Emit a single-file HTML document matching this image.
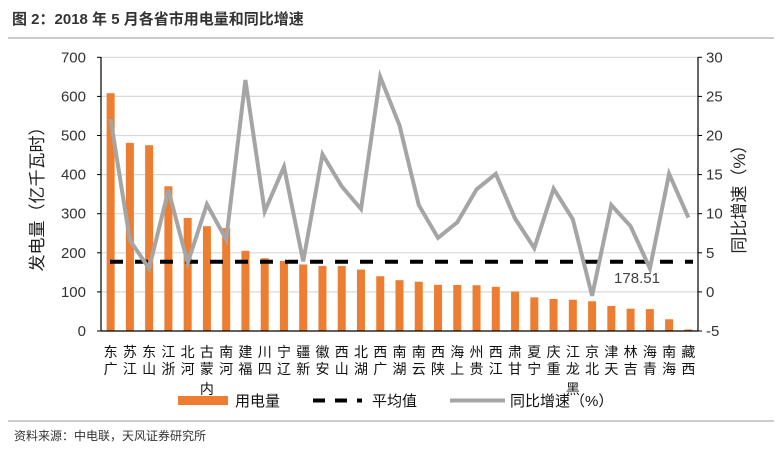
<!DOCTYPE html>
<html><head><meta charset="utf-8"><style>
body{margin:0;background:#fff;}
svg{display:block;font-family:"Liberation Sans","Noto Sans CJK SC",sans-serif;}
</style></head><body>
<svg width="782" height="451" viewBox="0 0 782 451" xmlns="http://www.w3.org/2000/svg">
<text x="12" y="24" font-size="15" font-weight="bold" fill="#333">图 2：2018 年 5 月各省市用电量和同比增速</text>
<line x1="8" y1="38" x2="774" y2="38" stroke="#999" stroke-width="1"/>
<line x1="8" y1="421" x2="774" y2="421" stroke="#999" stroke-width="1"/>
<text x="14" y="440" font-size="12" fill="#333">资料来源：中电联，天风证券研究所</text>
<g stroke="#d9d9d9" stroke-width="1.2">
<line x1="101" y1="57.3" x2="698" y2="57.3"/><line x1="101" y1="96.4" x2="698" y2="96.4"/><line x1="101" y1="135.5" x2="698" y2="135.5"/><line x1="101" y1="174.6" x2="698" y2="174.6"/><line x1="101" y1="213.7" x2="698" y2="213.7"/><line x1="101" y1="252.8" x2="698" y2="252.8"/><line x1="101" y1="291.9" x2="698" y2="291.9"/>
</g>
<g id="bars" fill="#ed7d31"></g>
<g stroke="#000" stroke-width="1.2">
<line x1="101" y1="57" x2="101" y2="331"/><line x1="698" y1="57" x2="698" y2="331"/><line x1="101" y1="331" x2="698" y2="331"/>
</g>
<g id="ticks" stroke="#000" stroke-width="1"></g>
<line x1="110" y1="261.7" x2="693" y2="261.7" stroke="#000" stroke-width="4" stroke-dasharray="13,12"/>
<polyline id="ln" fill="none" stroke="#a5a5a5" stroke-width="4" stroke-linejoin="miter"/>
<text x="637" y="283" font-size="15" fill="#404040" text-anchor="middle">178.51</text>
<g font-size="15" fill="#333" text-anchor="end" id="yl"></g>
<g font-size="15" fill="#333" id="yr"></g>
<text transform="translate(43,195) rotate(-90)" font-size="17" fill="#1f1f1f" text-anchor="middle">发电量（亿千瓦时）</text>
<text transform="translate(745,195) rotate(-90)" font-size="17" fill="#1f1f1f" text-anchor="middle">同比增速（%）</text>
<g id="xl" font-size="14" fill="#111" text-anchor="middle"></g>
<rect x="178" y="396" width="50" height="9" fill="#ed7d31"/>
<text x="235" y="406" font-size="15" fill="#111">用电量</text>
<line x1="313" y1="400.5" x2="362" y2="400.5" stroke="#000" stroke-width="4" stroke-dasharray="12,10"/>
<text x="372" y="406" font-size="15" fill="#111">平均值</text>
<line x1="450" y1="400.5" x2="505" y2="400.5" stroke="#a5a5a5" stroke-width="4"/>
<text x="510" y="406" font-size="15" fill="#111">同比增速（%）</text>
</svg>
<script>
var ns="http://www.w3.org/2000/svg";
var names=["广东","江苏","山东","浙江","河北","内蒙古","河南","福建","四川","辽宁","新疆","安徽","山西","湖北","广西","湖南","云南","陕西","上海","贵州","江西","甘肃","宁夏","重庆","黑龙江","北京","天津","吉林","青海","海南","西藏"];
var v=[608,481,475,370,289,268,263,205,186,179,170,166,166,157,140,130,126,118,117.6,117,113,101,86,82,80,76,64,57,56,30,4];
var g=[22.1,6.6,3.0,13.0,3.7,11.2,6.7,27.1,10.3,16.0,3.9,17.6,13.5,10.6,27.5,21.3,11.1,6.9,8.9,13.1,15.1,9.4,5.6,13.2,9.3,-0.5,11.1,8.4,3.0,15.1,9.5];
var W=597/31,pts=[];
function el(t,a,p,txt){var e=document.createElementNS(ns,t);for(var k in a)e.setAttribute(k,a[k]);if(txt!=null)e.textContent=txt;document.getElementById(p).appendChild(e);return e;}
for(var i=0;i<31;i++){var cx=101+W*(i+0.5);var h=v[i]*0.3911;
el("rect",{x:cx-4,y:331-h,width:8,height:h},"bars");
pts.push(cx.toFixed(1)+","+(57.3+(30-g[i])*7.82).toFixed(1));
var n=names[i];for(var j=0;j<n.length;j++)el("text",{x:cx,y:357+j*17+(j==2?3:0)},"xl",n[n.length-1-j]);}
document.getElementById("ln").setAttribute("points",pts.join(" "));
for(var k=0;k<=7;k++){var y=331-k*39.1;
el("text",{x:86,y:y+5},"yl",String(k*100));
el("text",{x:706,y:y+5},"yr",String(-5+k*5));
el("line",{x1:97,y1:y,x2:101,y2:y},"ticks");el("line",{x1:698,y1:y,x2:702,y2:y},"ticks");}
</script>
</body></html>
